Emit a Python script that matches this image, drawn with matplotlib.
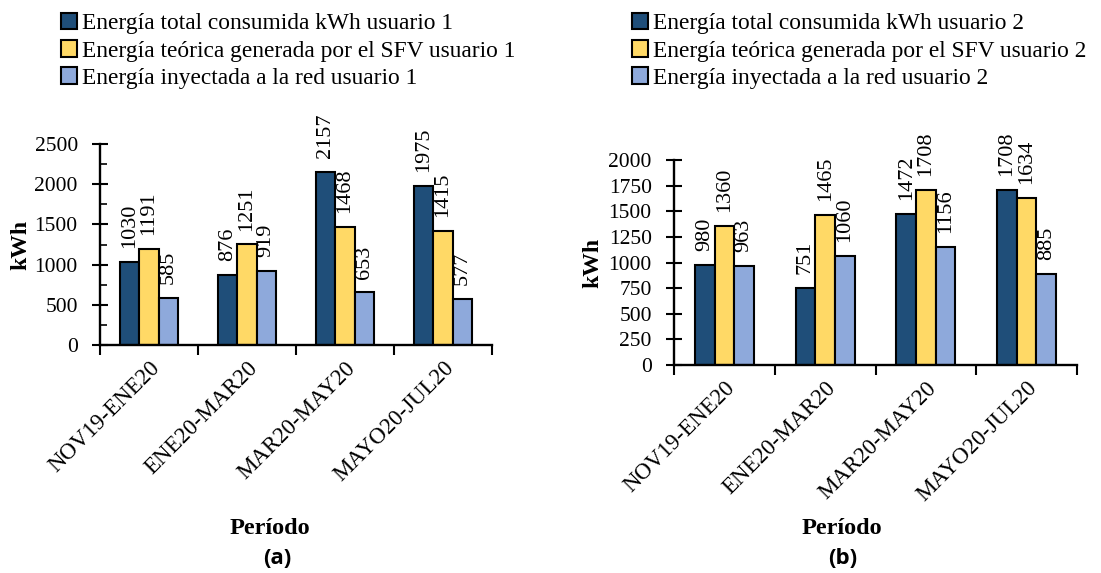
import matplotlib.pyplot as plt
import numpy as np

plt.rcParams['font.family'] = ['Liberation Serif', 'DejaVu Serif']

periodos = ['NOV19-ENE20', 'ENE20-MAR20', 'MAR20-MAY20', 'MAYO20-JUL20']

# usuario 1
consumida_1 = [1030, 876, 2157, 1975]
generada_1 = [1191, 1251, 1468, 1415]
inyectada_1 = [585, 919, 653, 577]

# usuario 2
consumida_2 = [980, 751, 1472, 1708]
generada_2 = [1360, 1465, 1708, 1634]
inyectada_2 = [963, 1060, 1156, 885]

colores = ['#1F4E79', '#FFD966', '#8EA9DB']
W, H = 1101, 573

fig = plt.figure(figsize=(W / 100, H / 100), dpi=100)


def panel(rect, series, usuario, ymax, ystep, minor, ylab_x, legend_x, periodo_x, letra, letra_x):
    ax = fig.add_axes(rect)
    x = np.arange(len(periodos))
    w = 0.195
    nombres = ['Energía total consumida kWh usuario %d' % usuario,
               'Energía teórica generada por el SFV usuario %d' % usuario,
               'Energía inyectada a la red usuario %d' % usuario]
    for i, vals in enumerate(series):
        bars = ax.bar(x + (i - 1) * w, vals, w, color=colores[i], edgecolor='black',
                      linewidth=1.5, label=nombres[i])
        for b, v in zip(bars, vals):
            ax.annotate(str(v), (b.get_x() + b.get_width() / 2, v), xytext=(0, 10),
                        textcoords='offset points', rotation=90, ha='center', va='bottom',
                        fontsize=16)
    ax.set_xlim(-0.5, len(periodos) - 0.5)
    ax.set_ylim(0, ymax)
    ax.set_yticks(np.arange(0, ymax + 1, ystep))
    if minor:
        ax.set_yticks(np.arange(0, ymax + 1, minor), minor=True)
        ax.tick_params(axis='y', which='minor', direction='in', length=5, width=1.2)
    ax.tick_params(axis='y', which='major', direction='inout', length=12, width=1.5,
                   labelsize=15.5, pad=10)
    ax.set_xticks(np.arange(-0.5, len(periodos)))
    ax.set_xticklabels([])
    ax.tick_params(axis='x', which='major', direction='out', length=7, width=1.5)
    ax.set_xticks(x, minor=True)
    ax.set_xticklabels(periodos, minor=True, rotation=45, ha='right',
                       rotation_mode='anchor', fontsize=16.5)
    ax.tick_params(axis='x', which='minor', length=0, pad=9)
    for s in ['top', 'right']:
        ax.spines[s].set_visible(False)
    for s in ['left', 'bottom']:
        ax.spines[s].set_linewidth(1.7)
    fig.text(ylab_x, rect[1] + rect[3] * 0.5, 'kWh', rotation=90, ha='center',
             va='center', fontsize=17, fontweight='bold')
    fig.text(periodo_x, 1 - 529 / H, 'Período', ha='center', va='center',
             fontsize=17.5, fontweight='bold')
    fig.text(letra_x, 1 - 558 / H, letra, ha='center', va='center', fontsize=16,
             fontweight='bold', family=['Open Sans', 'DejaVu Sans'])
    fig.legend(*ax.get_legend_handles_labels(), loc='upper left',
               bbox_to_anchor=(legend_x, 1 - 13 / H), frameon=False, fontsize=16.8,
               handlelength=0.7, handleheight=0.7, handletextpad=0.2,
               labelspacing=0.25, borderpad=0, borderaxespad=0)
    return ax


panel([100 / W, 1 - 345 / H, 392 / W, 201 / H], [consumida_1, generada_1, inyectada_1],
      1, 2500, 500, 250, 21 / W, 61 / W, 270 / W, '(a)', 277 / W)
panel([674 / W, 1 - 365 / H, 403 / W, 205 / H], [consumida_2, generada_2, inyectada_2],
      2, 2000, 250, None, 593 / W, 632 / W, 842 / W, '(b)', 843 / W)

fig.savefig('out.png', dpi=100)
